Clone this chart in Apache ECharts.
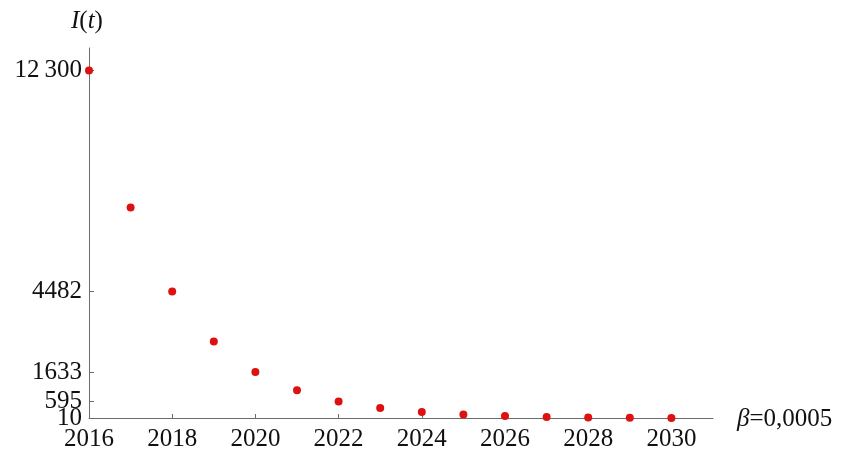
<!DOCTYPE html>
<html>
<head>
<meta charset="utf-8">
<script src="https://cdn.jsdelivr.net/npm/echarts@6/dist/echarts.min.js"></script>
<style>
  html, body { margin: 0; padding: 0; background: #fff; }
  #chart { width: 843px; height: 452px; }
</style>
</head>
<body>
<div id="chart"></div>
<script>
// Years of the forecast and the number of infected I(t) for each year
const years = [2016, 2017, 2018, 2019, 2020, 2021, 2022, 2023, 2024, 2025, 2026, 2027, 2028, 2029, 2030];
const infected = [12300, 7460, 4482, 2720, 1633, 990, 595, 362, 220, 134, 81, 49, 30, 18, 10];

// Tick positions shown on the axes (the lowest y tick gets its own axis so
// its label is not dropped as overlapping the 595 label)
const yTicks = [595, 1633, 4482, 12300];
const yBaseTick = [10];
const xTicks = [2016, 2018, 2020, 2022, 2024, 2026, 2028, 2030];

const serif = '"Liberation Serif", "DejaVu Serif", serif';
const axisGray = '#6b6b6b';
const fs = 25;
const yMin = 10;
const yMax = 13100;

const chart = echarts.init(document.getElementById('chart'), null, { renderer: 'canvas' });

const richText = {
  it: { fontFamily: serif, fontStyle: 'italic', fontWeight: 'normal', fontSize: fs, color: '#111' },
  n: { fontFamily: serif, fontWeight: 'normal', fontSize: fs, color: '#111' }
};

const yLabelFormat = v => v >= 10000 ? String(v).replace(/(\d+)(\d{3})$/, '$1\u2009$2') : String(v);

chart.setOption({
  backgroundColor: '#ffffff',
  animation: false,
  title: [
    {
      text: '{it|I}{n|(}{it|t}{n|)}',
      left: 66,
      top: 4,
      textStyle: { fontWeight: 'normal', rich: richText }
    },
    {
      text: '{it|β}{n|=0,0005}',
      left: 732,
      top: 402,
      textStyle: { fontWeight: 'normal', rich: richText }
    }
  ],
  grid: { left: 89, right: 130, top: 48, bottom: 33, containLabel: false },
  xAxis: {
    type: 'value',
    min: 2016,
    max: 2031,
    splitLine: { show: false },
    axisLine: { lineStyle: { color: axisGray, width: 1 } },
    axisTick: { inside: true, length: 4, customValues: xTicks, lineStyle: { color: axisGray } },
    axisLabel: {
      customValues: xTicks,
      showMinLabel: true,
      hideOverlap: false,
      margin: 9,
      fontFamily: serif,
      fontSize: fs,
      color: '#111',
      formatter: v => String(v)
    }
  },
  yAxis: [
    {
      type: 'value',
      position: 'left',
      min: yMin,
      max: yMax,
      splitLine: { show: false },
      axisLine: { show: true, lineStyle: { color: axisGray, width: 1 } },
      axisTick: { show: true, inside: true, length: 5, customValues: yTicks, lineStyle: { color: axisGray } },
      axisLabel: {
        customValues: yTicks,
        hideOverlap: false,
        margin: 7,
        fontFamily: serif,
        fontSize: fs,
        color: '#111',
        formatter: yLabelFormat
      }
    },
    {
      type: 'value',
      position: 'left',
      min: yMin,
      max: yMax,
      splitLine: { show: false },
      axisLine: { show: false },
      axisTick: { show: false },
      axisLabel: {
        customValues: yBaseTick,
        showMinLabel: true,
        margin: 7,
        fontFamily: serif,
        fontSize: fs,
        color: '#111',
        formatter: yLabelFormat
      }
    }
  ],
  series: [
    {
      type: 'scatter',
      yAxisIndex: 0,
      data: years.map((y, i) => [y, infected[i]]),
      symbol: 'circle',
      symbolSize: 8,
      itemStyle: { color: '#dd1111', opacity: 1 }
    }
  ]
});
</script>
</body>
</html>
